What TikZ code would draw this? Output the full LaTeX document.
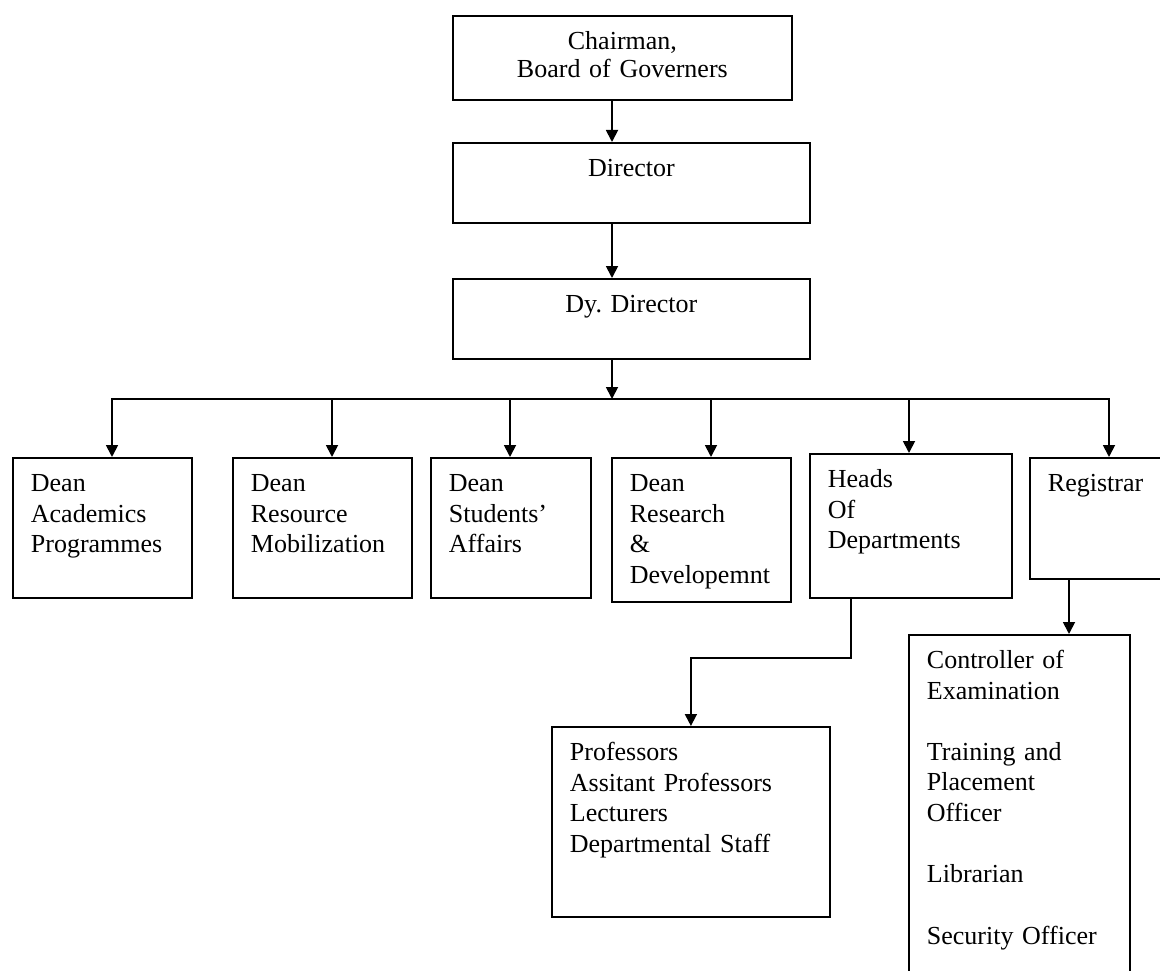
\documentclass[tikz,border=0pt]{standalone}
\usepackage{fontspec}
\setmainfont{Liberation Serif}
\usepackage{tikz}
\usetikzlibrary{arrows.meta}
\hyphenpenalty=10000
\frenchspacing

\begin{document}
\begin{tikzpicture}[x=1pt,y=-1pt,
    post/.style={draw,line width=1.8pt,rectangle,anchor=north west,inner xsep=18pt,inner ysep=10pt,
                 text height=24pt,align=left,font=\fontsize{26}{30.5}\selectfont},
    link/.style={line width=1.8pt,line cap=rect},
    arr/.style={link,-{Triangle[length=12pt,width=12pt]}}]
	\useasboundingbox (0,0) rectangle (1160,971);
	\clip (0,0) rectangle (1160,971);
	\fill[white] (0,0) rectangle (1160,971);
	\node[post,align=center,text width=303pt,text depth=40pt,font=\fontsize{26}{28}\selectfont] (chair) at (452,15) {Chairman,\\Board of Governers};
	\node[post,align=center,text width=321pt,text depth=36pt] (dir) at (452,142) {Director};
	\node[post,align=center,text width=321pt,text depth=36pt] (dy) at (452,278) {Dy. Director};
	\node[post,text width=143pt,text depth=96pt] (dAcad) at (12,457) {Dean\\Academics\\Programmes};
	\node[post,text width=143pt,text depth=96pt] (dRes) at (232,457) {Dean\\Resource\\Mobilization};
	\node[post,text width=124pt,text depth=96pt] (dStu) at (430,457) {Dean\\Students’\\Affairs};
	\node[post,text width=143pt,text depth=100pt] (dRnD) at (611,457) {Dean\\Research\\\&\\Developemnt};
	\node[post,text width=166pt,text depth=100pt] (hod) at (809,453) {Heads\\Of\\Departments};
	\node[post,text width=115pt,text depth=77pt] (reg) at (1029,457) {Registrar};
	\node[post,text width=242pt,text depth=146pt] (prof) at (551,726) {Professors\\Assitant Professors\\Lecturers\\Departmental Staff};
	\node[post,text width=185pt,text depth=322pt] (ctrl) at (908,634) {Controller of\\Examination\\[30.5pt]Training and\\Placement\\Officer\\[30.5pt]Librarian\\[32pt]Security Officer};
	\coordinate (trunk) at (612,399);
	\coordinate (elbow) at (851,658);
	\coordinate (rdrop) at (1069,0);
	\draw[arr] (chair.south -| trunk) -- (dir.north -| trunk);
	\draw[arr] (dir.south -| trunk) -- (dy.north -| trunk);
	\foreach \n/\x in {dAcad/112,dRes/332,dStu/510,dRnD/711,hod/909,reg/1109}{
		\coordinate (t\n) at (\x,399);
		\draw[arr] (t\n) -- (t\n |- \n.north);
	}
	\draw[link] (tdAcad) -- (treg);
	\draw[arr] (dy.south -| trunk) -- (trunk);
	\draw[arr] (hod.south -| elbow) -- (elbow) -| (prof.north);
	\draw[arr] (reg.south -| rdrop) -- (ctrl.north -| rdrop);
\end{tikzpicture}
\end{document}
